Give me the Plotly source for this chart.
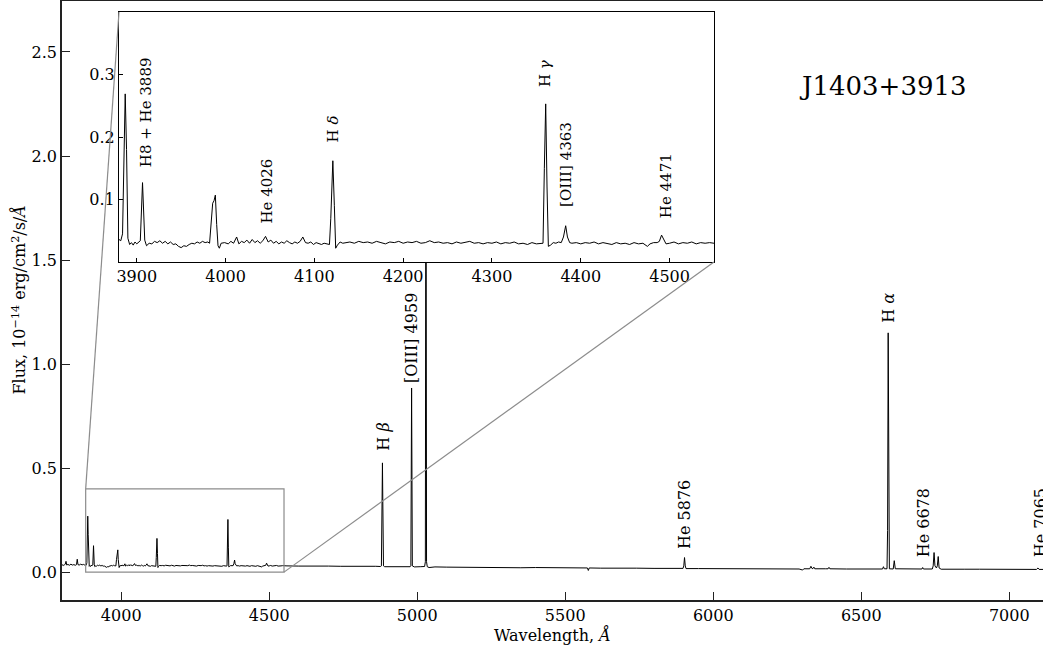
import plotly.graph_objects as go

# ---------------- data ----------------
# blue end of the spectrum, 3800-3880 A
wave_blue = [3800, 3804, 3808, 3811, 3813.5, 3816, 3820, 3825, 3830, 3835, 3840, 3845,
             3849, 3851.5, 3854, 3858, 3863, 3868, 3873, 3877]
flux_blue = [0.036, 0.032, 0.035, 0.038, 0.052, 0.034, 0.037, 0.033, 0.038, 0.034, 0.036, 0.033,
             0.036, 0.062, 0.036, 0.034, 0.038, 0.035, 0.037, 0.034]

# zoomed region, 3880-4550 A
wave_inset = [3880, 3882, 3884, 3885.5, 3887, 3888.5, 3890, 3892, 3894, 3896, 3898, 3900,
              3902, 3904, 3906.5, 3909, 3911, 3914, 3917, 3920, 3923, 3926, 3929, 3932,
              3935, 3938, 3941, 3944, 3947, 3950, 3953, 3956, 3959, 3962, 3965, 3968,
              3971, 3974, 3977, 3980, 3982, 3984, 3985.5, 3987, 3988.5, 3990, 3991.5, 3993,
              3995, 3999, 4003, 4006, 4009, 4012.5, 4015, 4018, 4021, 4024, 4027, 4030,
              4033, 4036, 4039, 4042, 4045, 4048, 4051, 4054, 4057, 4060, 4063, 4066,
              4069, 4072, 4075, 4078, 4081, 4084, 4087, 4090, 4093, 4096, 4099, 4102,
              4105, 4108, 4111, 4114, 4117, 4118.5, 4120.8, 4122.5, 4124, 4126, 4129, 4132,
              4135, 4140, 4145, 4150, 4155, 4160, 4165, 4170, 4175, 4180, 4185, 4190,
              4195, 4200, 4205, 4210, 4215, 4220, 4225, 4230, 4235, 4240, 4245, 4250,
              4255, 4260, 4265, 4270, 4275, 4280, 4285, 4290, 4295, 4300, 4305, 4310,
              4315, 4320, 4325, 4330, 4335, 4340, 4345, 4350, 4355, 4357.5, 4359, 4360.5,
              4362, 4363.5, 4366, 4369, 4372, 4375, 4378, 4380.5, 4383, 4385, 4387.5, 4390,
              4395, 4400, 4405, 4410, 4415, 4420, 4425, 4430, 4435, 4440, 4445, 4450,
              4455, 4460, 4465, 4470, 4475, 4478, 4482, 4486, 4488.5, 4491, 4493.5, 4496,
              4500, 4505, 4510, 4515, 4520, 4525, 4530, 4535, 4540, 4545, 4550]
flux_inset = [0.036, 0.034, 0.045, 0.200, 0.269, 0.180, 0.038, 0.028, 0.031, 0.027, 0.032, 0.029,
              0.031, 0.034, 0.127, 0.035, 0.026, 0.030, 0.029, 0.033, 0.031, 0.034, 0.030, 0.033,
              0.029, 0.032, 0.028, 0.029, 0.025, 0.023, 0.026, 0.025, 0.028, 0.030, 0.029, 0.032,
              0.030, 0.033, 0.031, 0.032, 0.030, 0.060, 0.094, 0.098, 0.107, 0.060, 0.026, 0.022,
              0.030, 0.031, 0.029, 0.033, 0.030, 0.040, 0.029, 0.033, 0.031, 0.035, 0.030, 0.036,
              0.031, 0.034, 0.030, 0.034, 0.041, 0.032, 0.035, 0.030, 0.033, 0.029, 0.032, 0.030,
              0.034, 0.031, 0.029, 0.032, 0.030, 0.033, 0.040, 0.031, 0.030, 0.032, 0.028, 0.031,
              0.030, 0.028, 0.030, 0.029, 0.028, 0.070, 0.162, 0.090, 0.022, 0.027, 0.032, 0.030,
              0.031, 0.032, 0.030, 0.033, 0.031, 0.032, 0.030, 0.033, 0.031, 0.029, 0.032, 0.031,
              0.033, 0.030, 0.032, 0.031, 0.033, 0.030, 0.031, 0.034, 0.031, 0.032, 0.030, 0.031,
              0.029, 0.032, 0.030, 0.031, 0.033, 0.030, 0.031, 0.029, 0.031, 0.030, 0.032, 0.029,
              0.031, 0.030, 0.032, 0.029, 0.030, 0.028, 0.031, 0.029, 0.029, 0.030, 0.150, 0.253,
              0.120, 0.025, 0.027, 0.031, 0.030, 0.032, 0.031, 0.040, 0.058, 0.040, 0.031, 0.030,
              0.031, 0.029, 0.031, 0.030, 0.032, 0.029, 0.031, 0.030, 0.028, 0.031, 0.029, 0.030,
              0.028, 0.031, 0.029, 0.030, 0.025, 0.029, 0.031, 0.031, 0.033, 0.043, 0.035, 0.029,
              0.030, 0.032, 0.029, 0.031, 0.030, 0.032, 0.029, 0.031, 0.030, 0.031, 0.030]

# red part, 4550-7114 A
wave_red = [4560, 4600, 4640, 4680, 4700, 4740, 4780, 4820, 4860, 4876, 4879, 4882.5,
            4886, 4890, 4920, 4950, 4976, 4978.5, 4981, 4983.5, 4990, 5010, 5025, 5027.5,
            5029.5, 5031.5, 5034, 5040, 5060, 5100, 5150, 5200, 5250, 5300, 5350, 5400,
            5450, 5500, 5550, 5575, 5578, 5581, 5620, 5680, 5740, 5800, 5850, 5898,
            5900.5, 5903, 5905.5, 5908, 5950, 6000, 6050, 6100, 6150, 6200, 6250, 6290,
            6302, 6306, 6326, 6330, 6334, 6337, 6340, 6343, 6380, 6388, 6391, 6394,
            6450, 6500, 6550, 6572, 6575, 6578, 6587, 6589, 6591, 6593, 6595, 6608,
            6611.5, 6615, 6650, 6690, 6705, 6707.5, 6710, 6740, 6743, 6746, 6749, 6754,
            6757, 6760, 6763, 6770, 6800, 6850, 6900, 6950, 7000, 7050, 7092, 7097,
            7101, 7114]
flux_red = [0.030, 0.029, 0.030, 0.028, 0.029, 0.028, 0.029, 0.027, 0.028, 0.027, 0.030, 0.525,
            0.030, 0.026, 0.027, 0.026, 0.026, 0.030, 0.885, 0.030, 0.025, 0.026, 0.027, 0.050,
            2.650, 0.050, 0.026, 0.022, 0.025, 0.024, 0.023, 0.024, 0.022, 0.023, 0.021, 0.022,
            0.021, 0.020, 0.021, 0.020, 0.008, 0.020, 0.019, 0.020, 0.019, 0.018, 0.018, 0.018,
            0.030, 0.070, 0.030, 0.017, 0.017, 0.017, 0.016, 0.017, 0.016, 0.016, 0.016, 0.015,
            0.010, 0.016, 0.016, 0.028, 0.017, 0.017, 0.024, 0.016, 0.016, 0.016, 0.023, 0.016,
            0.015, 0.015, 0.015, 0.015, 0.026, 0.016, 0.016, 0.200, 1.150, 0.200, 0.016, 0.015,
            0.055, 0.016, 0.015, 0.015, 0.015, 0.022, 0.015, 0.015, 0.030, 0.094, 0.030, 0.020,
            0.030, 0.075, 0.020, 0.014, 0.015, 0.014, 0.014, 0.013, 0.014, 0.013, 0.013, 0.020,
            0.013, 0.013]

# line labels on the main axes
main_labels = ["H <i>β</i>", "[OIII] 4959", "He 5876", "H <i>α</i>", "He 6678", "He 7065"]
main_label_wave = [4885, 4983, 5905, 6591, 6709, 7104]
main_label_flux = [0.575, 0.90, 0.10, 1.19, 0.06, 0.06]

# line labels in the inset
inset_labels = ["H8 + He 3889", "He 4026", "H <i>δ</i>", "H <i>γ</i>", "[OIII] 4363", "He 4471"]
inset_label_wave = [3910, 4047, 4121.5, 4360.5, 4384, 4495.5]
inset_label_flux = [0.148, 0.058, 0.188, 0.277, 0.085, 0.067]

object_name = "J1403+3913"

main_xticks = [4000, 4500, 5000, 5500, 6000, 6500, 7000]
main_yticks = [0.0, 0.5, 1.0, 1.5, 2.0, 2.5]
inset_xticks = [3900, 4000, 4100, 4200, 4300, 4400, 4500]
inset_yticks = [0.1, 0.2, 0.3]

# ---------------- layout parameters ----------------
W, H = 1043, 648
FONT = "DejaVu Serif"
x_range = [3800, 7114]
y_range = [-0.134, 2.745]
zoom_x = [3880, 4550]
zoom_y = [0.0, 0.4]
inset_dom_x = [0.0581, 0.6646]
inset_dom_y = [0.5643, 0.9816]

wave = wave_blue + wave_inset + wave_red
flux = flux_blue + flux_inset + flux_red

fig = go.Figure()
fig.add_trace(go.Scatter(x=wave, y=flux, mode="lines",
                         line=dict(color="black", width=1), xaxis="x", yaxis="y",
                         hoverinfo="skip", showlegend=False))
fig.add_trace(go.Scatter(x=wave, y=flux, mode="lines",
                         line=dict(color="black", width=1), xaxis="x2", yaxis="y2",
                         hoverinfo="skip", showlegend=False))

axis_common = dict(ticks="inside", showgrid=False, zeroline=False, automargin=False,
                   tickfont=dict(family=FONT, size=16, color="black"))

fig.update_layout(
    width=W, height=H,
    margin=dict(l=62, r=0, t=1, b=48),
    paper_bgcolor="white", plot_bgcolor="white",
    showlegend=False,
    font=dict(family=FONT, size=16, color="black"),
    xaxis=dict(range=x_range, domain=[0, 1], tickvals=main_xticks, ticklen=8, tickwidth=1.3,
               tickcolor="#222", showline=True, linecolor="#222", linewidth=1.6, mirror=True,
               **axis_common),
    yaxis=dict(range=y_range, domain=[0, 1], tickvals=main_yticks,
               ticktext=[f"{v:.1f}" for v in main_yticks], ticklen=8, tickwidth=1.3,
               tickcolor="#222", showline=True, linecolor="#222", linewidth=1.6,
               **axis_common),
    xaxis2=dict(range=zoom_x, domain=inset_dom_x, anchor="y2", tickvals=inset_xticks,
                ticklen=4, tickwidth=1, tickcolor="black", showline=True, linecolor="black",
                linewidth=1, mirror=True, **axis_common),
    yaxis2=dict(range=zoom_y, domain=inset_dom_y, anchor="x2", tickvals=inset_yticks,
                ticktext=[f"{v:.1f}" for v in inset_yticks], ticklen=4, tickwidth=1,
                tickcolor="black", showline=True, linecolor="black", linewidth=1, mirror=True,
                **axis_common),
)

# axis titles placed as paper annotations (fixed margins)
fig.add_annotation(x=0.5, y=-0.058, xref="paper", yref="paper",
                   text="Wavelength, <i>Å</i>", showarrow=False,
                   xanchor="center", yanchor="middle",
                   font=dict(family=FONT, size=16, color="black"))
fig.add_annotation(x=-0.0438, y=0.5, xref="paper", yref="paper",
                   text="Flux, 10<sup>−14</sup> erg/cm<sup>2</sup>/s/<i>Å</i>",
                   textangle=-90, showarrow=False, xanchor="center", yanchor="middle",
                   font=dict(family=FONT, size=16, color="black"))

# zoom box and connectors (mark_inset style)
grey = "#8c8c8c"
fig.add_shape(type="rect", xref="x", yref="y", x0=zoom_x[0], x1=zoom_x[1],
              y0=zoom_y[0], y1=zoom_y[1], line=dict(color=grey, width=1.2), layer="above")


def main_x(frac):
    return x_range[0] + frac * (x_range[1] - x_range[0])


def main_y(frac):
    return y_range[0] + frac * (y_range[1] - y_range[0])


fig.add_shape(type="line", xref="x", yref="y", x0=zoom_x[0], y0=zoom_y[1],
              x1=main_x(inset_dom_x[0]), y1=main_y(inset_dom_y[1]),
              line=dict(color=grey, width=1.2), layer="above")
fig.add_shape(type="line", xref="x", yref="y", x0=zoom_x[1], y0=zoom_y[0],
              x1=main_x(inset_dom_x[1]), y1=main_y(inset_dom_y[0]),
              line=dict(color=grey, width=1.2), layer="above")

for txt, wx, fy in zip(main_labels, main_label_wave, main_label_flux):
    fig.add_annotation(x=wx, y=fy, xref="x", yref="y", text=txt, textangle=-90,
                       showarrow=False, xanchor="center", yanchor="bottom",
                       font=dict(family=FONT, size=16, color="black"))

for txt, wx, fy in zip(inset_labels, inset_label_wave, inset_label_flux):
    fig.add_annotation(x=wx, y=fy, xref="x2", yref="y2", text=txt, textangle=-90,
                       showarrow=False, xanchor="center", yanchor="bottom",
                       font=dict(family=FONT, size=15, color="black"))

fig.add_annotation(x=0.837, y=0.858, xref="paper", yref="paper", text=object_name,
                   showarrow=False, xanchor="center", yanchor="middle",
                   font=dict(family=FONT, size=26, color="black"))

fig.write_html("out.html",
               config={"displayModeBar": False},
               post_script="document.body.style.margin='0';"
                           "document.body.style.overflow='hidden';")
